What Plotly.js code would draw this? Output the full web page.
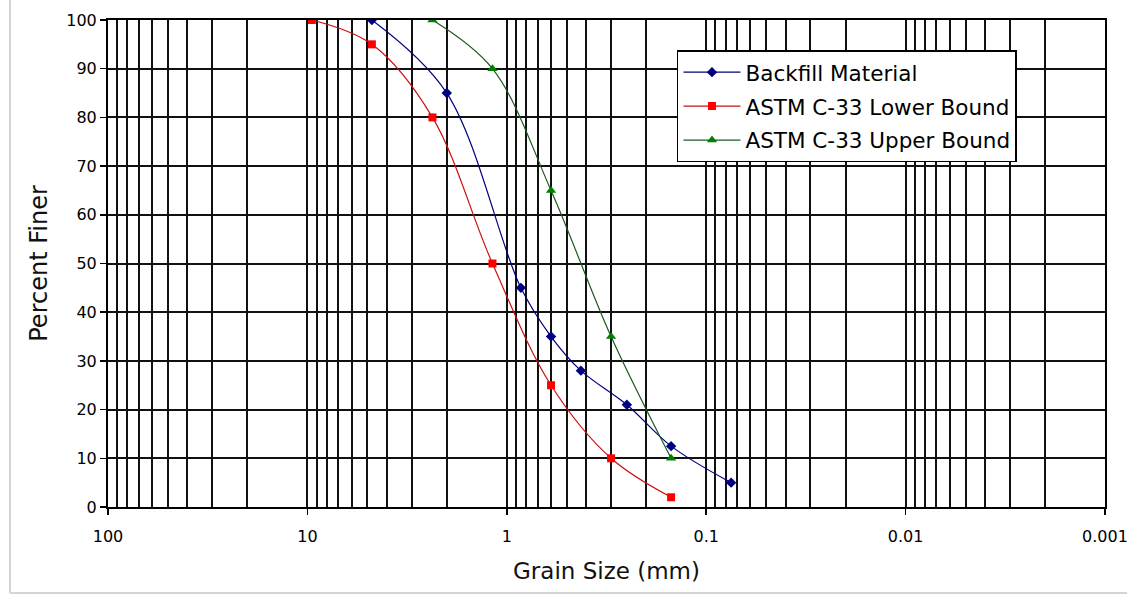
<!DOCTYPE html>
<html>
<head>
<meta charset="utf-8">
<script src="https://cdn.plot.ly/plotly-3.0.1.min.js"></script>
<style>
  html, body { margin: 0; padding: 0; background: #fff; }
  #chart { width: 1127px; height: 595px; }
</style>
</head>
<body>
<div id="chart"></div>
<script>
// ---- data ----
const seriesNames = ["Backfill Material", "ASTM C-33 Lower Bound", "ASTM C-33 Upper Bound"];

const sieveBackfill = [4.75, 2.0, 0.85, 0.6, 0.425, 0.25, 0.15, 0.075];
const finerBackfill = [100, 85, 45, 35, 28, 21, 12.5, 5];

const sieveLower = [9.5, 4.75, 2.36, 1.18, 0.6, 0.3, 0.15];
const finerLower = [100, 95, 80, 50, 25, 10, 2];

const sieveUpper = [2.36, 1.18, 0.6, 0.3, 0.15];
const finerUpper = [100, 90, 65, 35, 10];

const xTickVals = [100, 10, 1, 0.1, 0.01, 0.001];
const xTickText = ["100", "10", "1", "0.1", "0.01", "0.001"];
const yTickVals = [0, 10, 20, 30, 40, 50, 60, 70, 80, 90, 100];

// minor log grid lines (2..9 in every decade)
const minorVals = [];
for (const d of [0.001, 0.01, 0.1, 1, 10]) {
  for (let m = 2; m <= 9; m++) minorVals.push(+(m * d).toPrecision(3));
}

const FONT = "DejaVu Sans, Arial, sans-serif";

const traces = [
  {
    x: sieveBackfill, y: finerBackfill, name: seriesNames[0],
    type: "scatter", mode: "lines+markers", legendgroup: "a",
    line: { color: "#000080", width: 1.2, shape: "spline", smoothing: 1 },
    marker: { symbol: "diamond", size: 8, color: "#000080" }
  },
  {
    x: sieveLower, y: finerLower, name: seriesNames[1],
    type: "scatter", mode: "lines+markers", legendgroup: "b",
    line: { color: "#cc1010", width: 1.2, shape: "spline", smoothing: 1 },
    marker: { symbol: "square", size: 8, color: "#ff0000" }
  },
  {
    x: sieveUpper, y: finerUpper, name: seriesNames[2],
    type: "scatter", mode: "lines+markers", legendgroup: "c",
    line: { color: "#1d5a1d", width: 1.2, shape: "spline", smoothing: 1 },
    marker: { symbol: "triangle-up", size: 9, color: "#008000" }
  }
];

const layout = {
  width: 1127, height: 595,
  margin: { l: 108, r: 22, t: 20, b: 88 },
  paper_bgcolor: "#ffffff", plot_bgcolor: "#ffffff",
  font: { family: FONT, color: "#000", size: 16 },
  showlegend: true,
  legend: {
    x: 0.5707, y: 0.938, xanchor: "left", yanchor: "top",
    bgcolor: "#ffffff", bordercolor: "#000", borderwidth: 1.5,
    font: { family: FONT, size: 21.5, color: "#000" },
    tracegroupgap: 3, itemwidth: 57,
    entrywidth: 340, entrywidthmode: "pixels"
  },
  xaxis: {
    type: "log", range: [2, -3],
    tickmode: "array", tickvals: xTickVals, ticktext: xTickText,
    ticks: "outside", ticklen: 6, tickwidth: 1.5, tickcolor: "#000",
    ticklabelstandoff: 8, ticklabeloverflow: "allow",
    showgrid: true, gridcolor: "#111", gridwidth: 2,
    minor: { tickmode: "array", tickvals: minorVals, showgrid: true,
             gridcolor: "#111", gridwidth: 2, ticks: "" },
    showline: true, linecolor: "#000", linewidth: 2, mirror: true,
    zeroline: false,
    tickfont: { family: FONT, size: 16, color: "#000" },
    title: { text: "Grain Size (mm)", font: { family: FONT, size: 23, color: "#111" }, standoff: 18 }
  },
  yaxis: {
    range: [0, 100],
    tickmode: "array", tickvals: yTickVals,
    ticks: "outside", ticklen: 6, tickwidth: 1.5, tickcolor: "#000",
    showgrid: true, gridcolor: "#111", gridwidth: 2,
    showline: true, linecolor: "#000", linewidth: 2, mirror: true,
    zeroline: false,
    tickfont: { family: FONT, size: 16, color: "#000" },
    title: { text: "Percent Finer", font: { family: FONT, size: 24, color: "#111" }, standoff: 12 }
  },
  shapes: [
    { type: "line", xref: "paper", yref: "paper", x0: -0.0983, x1: -0.0983, y0: -0.1766, y1: 1.1,
      line: { color: "#d4d4d4", width: 2 } },
    { type: "line", xref: "paper", yref: "paper", x0: -0.0983, x1: 1.05, y0: -0.1766, y1: -0.1766,
      line: { color: "#d4d4d4", width: 2 } }
  ]
};

Plotly.newPlot("chart", traces, layout, { displayModeBar: false, staticPlot: true });
</script>
</body>
</html>
